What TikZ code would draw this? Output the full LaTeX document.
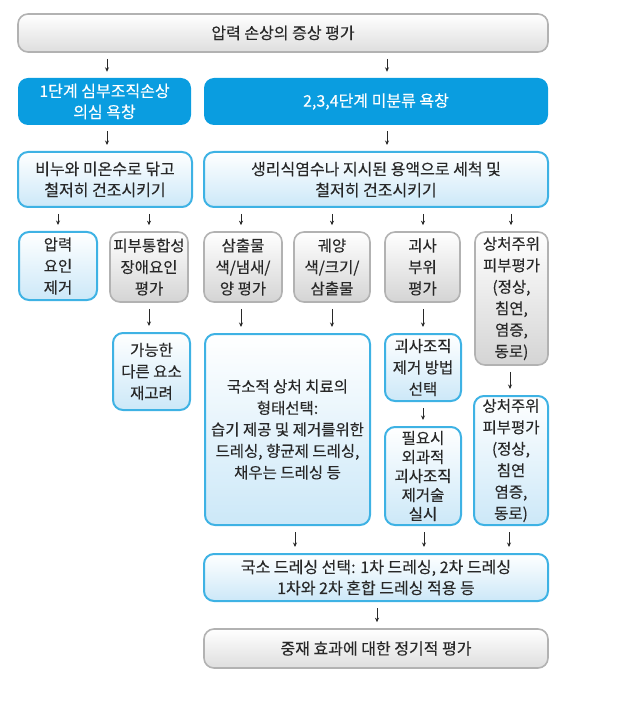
\documentclass[tikz,border=0pt]{standalone}
\usepackage{fontspec}
\setmainfont{Noto Sans CJK KR}[FakeBold=0.2]
\usetikzlibrary{arrows.meta}
\definecolor{txt}{RGB}{40,40,40}
\definecolor{cblue}{RGB}{10,157,224}
\definecolor{lbord}{RGB}{62,178,228}
\definecolor{lbfill}{RGB}{204,232,248}
\definecolor{gbord}{RGB}{178,178,178}
\definecolor{gfill}{RGB}{222,222,222}
\definecolor{gfill2}{RGB}{212,212,212}
\begin{document}
\begin{tikzpicture}[x=1pt,y=-1pt,
  base/.style={rounded corners=10pt, align=center, inner sep=0pt, text=txt,
    font=\fontsize{15.5}{21.5}\selectfont},
  big/.style={font=\fontsize{16}{21}\selectfont},
  graybig/.style={base, big, draw=gbord, line width=1.6pt, top color=white, bottom color=gfill},
  bluebox/.style={base, big, fill=cblue, text=white},
  lbbox/.style={base, draw=lbord, line width=2pt, top color=white, bottom color=lbfill},
  graybox/.style={base, draw=gbord, line width=1.6pt, top color=white, bottom color=gfill2},
  arr/.style={-{Stealth[length=4.5pt,width=4pt]}, line width=0.9pt, draw=txt,
    shorten <=6pt, shorten >=6pt}]
\useasboundingbox (0,0) rectangle (619,708);

\node[graybig, minimum width=530pt, minimum height=38pt] (top) at (283,33) {압력 손상의 증상 평가};
\node[bluebox, minimum width=173pt, minimum height=47pt] (blue1) at (104.5,101.5) {1단계 심부조직손상\\의심 욕창};
\node[bluebox, minimum width=344pt, minimum height=47pt] (blue2) at (376,101.5) {2,3,4단계 미분류 욕창};
\node[lbbox, big, minimum width=174pt, minimum height=55pt] (wash1) at (105,179.5) {비누와 미온수로 닦고\\철저히 건조시키기};
\node[lbbox, big, minimum width=344pt, minimum height=55pt] (wash2) at (376,179.5) {생리식염수나 지시된 용액으로 세척 및\\철저히 건조시키기};

\node[lbbox, minimum width=78pt, minimum height=68pt] (r3a) at (58,266) {압력\\요인\\제거};
\node[graybox, minimum width=78pt, minimum height=70pt] (r3b) at (149,267) {피부통합성\\장애요인\\평가};
\node[graybox, minimum width=78pt, minimum height=70pt] (r3c) at (243,267) {삼출물\\색/냄새/\\양 평가};
\node[graybox, minimum width=76pt, minimum height=70pt] (r3d) at (332,267) {궤양\\색/크기/\\삼출물};
\node[graybox, minimum width=75pt, minimum height=70pt] (r3e) at (422.5,267) {괴사\\부위\\평가};
\node[graybox, minimum width=73pt, minimum height=133pt] (r3f) at (511.5,298.5) {상처주위\\피부평가\\(정상,\\침연,\\염증,\\동로)};

\node[lbbox, minimum width=77pt, minimum height=77pt] (r4b) at (151.5,371.5) {가능한\\다른 요소\\재고려};
\node[lbbox, minimum width=165pt, minimum height=191pt] (r4c) at (287.5,429.5) {국소적 상처 치료의\\형태선택:\\습기 제공 및 제거를위한\\드레싱, 향균제 드레싱,\\채우는 드레싱 등};
\node[lbbox, minimum width=76pt, minimum height=67pt] (r4e) at (423,367.5) {괴사조직\\제거 방법\\선택};
\node[lbbox, minimum width=76pt, minimum height=98pt, font=\fontsize{15.5}{19}\selectfont] (r5e) at (423,476) {필요시\\외과적\\괴사조직\\제거술\\실시};
\node[lbbox, minimum width=74pt, minimum height=129pt] (r4f) at (511,460.5) {상처주위\\피부평가\\(정상,\\침연\\염증,\\동로)};

\node[lbbox, big, minimum width=344pt, minimum height=47pt] (dress) at (376,577.5) {국소 드레싱 선택: 1차 드레싱, 2차 드레싱\\1차와 2차 혼합 드레싱 적용 등};
\node[graybig, minimum width=344pt, minimum height=39pt] (final) at (376,648.5) {중재 효과에 대한 정기적 평가};

\draw[arr] (top.south -| 107,0) -- (blue1.north -| 107,0);
\draw[arr] (top.south -| 387,0) -- (blue2.north -| 387,0);
\draw[arr] (blue1.south -| 107,0) -- (wash1.north -| 107,0);
\draw[arr] (blue2.south -| 387,0) -- (wash2.north -| 387,0);
\draw[arr] (wash1.south -| 58,0) -- (r3a.north -| 58,0);
\draw[arr] (wash1.south -| 149,0) -- (r3b.north -| 149,0);
\draw[arr] (wash2.south -| 241,0) -- (r3c.north -| 241,0);
\draw[arr] (wash2.south -| 332,0) -- (r3d.north -| 332,0);
\draw[arr] (wash2.south -| 423,0) -- (r3e.north -| 423,0);
\draw[arr] (wash2.south -| 511,0) -- (r3f.north -| 511,0);
\draw[arr] (r3b.south -| 149,0) -- (r4b.north -| 149,0);
\draw[arr] (r3c.south -| 241,0) -- (r4c.north -| 241,0);
\draw[arr] (r3d.south -| 332,0) -- (r4c.north -| 332,0);
\draw[arr] (r3e.south -| 423,0) -- (r4e.north -| 423,0);
\draw[arr] (r3f.south -| 510,0) -- (r4f.north -| 510,0);
\draw[arr] (r4e.south -| 423,0) -- (r5e.north -| 423,0);
\draw[arr] (r4c.south -| 295,0) -- (dress.north -| 295,0);
\draw[arr] (r5e.south -| 424,0) -- (dress.north -| 424,0);
\draw[arr] (r4f.south -| 509,0) -- (dress.north -| 509,0);
\draw[arr] (dress.south -| 377,0) -- (final.north -| 377,0);
\end{tikzpicture}
\end{document}
